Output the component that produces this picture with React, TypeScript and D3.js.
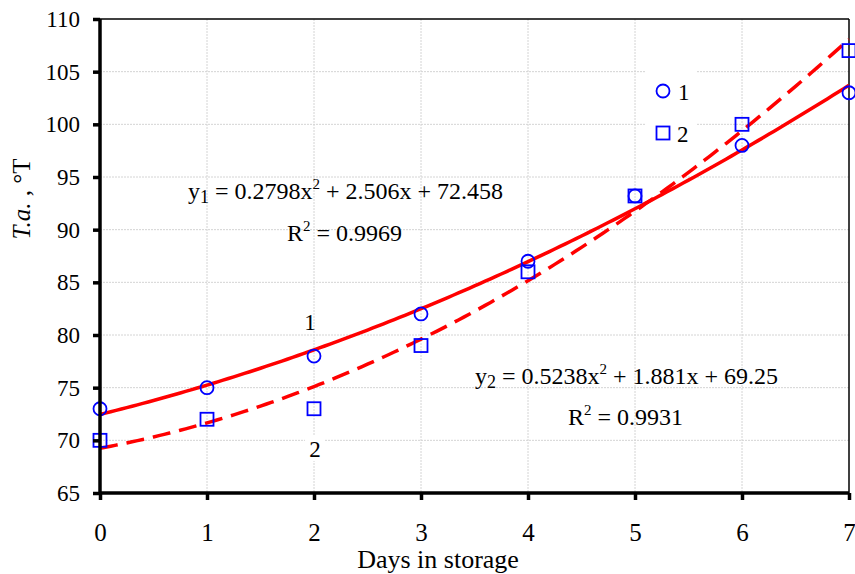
import React, { useRef, useEffect } from 'react'
import * as d3 from 'd3'

// measured data
const days = [0, 1, 2, 3, 4, 5, 6, 7]
const series1 = [73, 75, 78, 82, 87, 93.2, 98, 103]
const series2 = [70, 72, 73, 79, 86, 93.2, 100, 107]

// trend line coefficients shown on the chart (a, b, c for ax^2 + bx + c)
const trend1 = [0.2798, 2.506, 72.458]
const trend2 = [0.5238, 1.881, 69.25]

const xTicks = [0, 1, 2, 3, 4, 5, 6, 7]
const yTicks = [65, 70, 75, 80, 85, 90, 95, 100, 105, 110]

export default function App() {
  const svgRef = useRef<SVGSVGElement>(null)

  useEffect(() => {
    const svg = d3.select(svgRef.current)
    svg.selectAll('*').remove()

    const width = 855, height = 574
    const margin = { top: 19, right: 6, bottom: 81, left: 100 }
    const w = width - margin.left - margin.right
    const h = height - margin.top - margin.bottom
    const font = '"Liberation Serif", "Times New Roman", serif'

    svg.attr('width', width).attr('height', height)
      .style('font-family', font)

    const g = svg.append('g').attr('transform', `translate(${margin.left},${margin.top})`)

    const x = d3.scaleLinear().domain([0, 7]).range([0, w])
    const y = d3.scaleLinear().domain([65, 110]).range([h, 0])

    // grid
    g.append('g').selectAll('line').data(yTicks.slice(1, -1)).join('line')
      .attr('x1', 0).attr('x2', w).attr('y1', d => y(d)).attr('y2', d => y(d))
      .attr('stroke', '#d4d4d4').attr('stroke-width', 1).attr('stroke-dasharray', '2 1')
    g.append('g').selectAll('line').data(xTicks.slice(1, -1)).join('line')
      .attr('y1', 0).attr('y2', h).attr('x1', d => x(d)).attr('x2', d => x(d))
      .attr('stroke', '#d4d4d4').attr('stroke-width', 1).attr('stroke-dasharray', '2 1')

    // frame top/right
    g.append('line').attr('x1', 0).attr('x2', w).attr('y1', 0).attr('y2', 0)
      .attr('stroke', '#000').attr('stroke-width', 1.5)
    g.append('line').attr('x1', w).attr('x2', w).attr('y1', 0).attr('y2', h)
      .attr('stroke', '#000').attr('stroke-width', 1.5)

    // legend background
    g.append('rect').attr('x', 545).attr('y', 52).attr('width', 52).attr('height', 86).attr('fill', '#fff')

    // trend lines
    const xs = d3.range(0, 7.0001, 0.05)
    const quad = (c: number[]) => (t: number) => c[0] * t * t + c[1] * t + c[2]
    const f1 = quad(trend1), f2 = quad(trend2)
    g.append('path').datum(xs)
      .attr('d', d3.line<number>().x(d => x(d)).y(d => y(f1(d))))
      .attr('fill', 'none').attr('stroke', '#ff0000').attr('stroke-width', 3.5)
    g.append('path').datum(xs)
      .attr('d', d3.line<number>().x(d => x(d)).y(d => y(f2(d))))
      .attr('fill', 'none').attr('stroke', '#ff0000').attr('stroke-width', 3.5)
      .attr('stroke-dasharray', '18 9')

    // markers
    g.append('g').selectAll('circle').data(days).join('circle')
      .attr('cx', d => x(d)).attr('cy', (d, i) => y(series1[i])).attr('r', 6.5)
      .attr('fill', 'none').attr('stroke', '#0000ff').attr('stroke-width', 1.8)
    g.append('g').selectAll('rect').data(days).join('rect')
      .attr('x', d => x(d) - 6.5).attr('y', (d, i) => y(series2[i]) - 6.5)
      .attr('width', 13).attr('height', 13)
      .attr('fill', 'none').attr('stroke', '#0000ff').attr('stroke-width', 1.8)

    // axes
    const xAxis = g.append('g').attr('transform', `translate(0,${h})`)
      .call(d3.axisBottom(x).tickValues(xTicks).tickSize(7).tickPadding(23).tickFormat(d3.format('d')))
    const yAxis = g.append('g')
      .call(d3.axisLeft(y).tickValues(yTicks).tickSize(7).tickPadding(13).tickFormat(d3.format('d')))
    for (const ax of [xAxis, yAxis]) {
      ax.select('.domain').attr('stroke', '#000').attr('stroke-width', 3.5)
      ax.selectAll('.tick line').attr('stroke', '#000').attr('stroke-width', 3.5)
      ax.selectAll('.tick text').attr('fill', '#000').attr('font-family', font)
    }
    xAxis.selectAll('.tick text').attr('font-size', '25px')
    yAxis.selectAll('.tick text').attr('font-size', '23px')
    xAxis.select('.domain').attr('d', `M0,0H${w}`)
    yAxis.select('.domain').attr('d', `M0,0V${h}`)

    // legend
    g.append('circle').attr('cx', 563).attr('cy', 72).attr('r', 6.5)
      .attr('fill', 'none').attr('stroke', '#0000ff').attr('stroke-width', 1.8)
    g.append('text').attr('x', 578).attr('y', 81).attr('font-size', '23px').text('1')
    g.append('rect').attr('x', 556.5).attr('y', 107.5).attr('width', 13).attr('height', 13)
      .attr('fill', 'none').attr('stroke', '#0000ff').attr('stroke-width', 1.8)
    g.append('text').attr('x', 577).attr('y', 123).attr('font-size', '23px').text('2')

    // curve labels
    g.append('text').attr('x', 210).attr('y', 311).attr('text-anchor', 'middle')
      .attr('font-size', '23px').text('1')
    g.append('rect').attr('x', 205).attr('y', 416).attr('width', 20).attr('height', 26).attr('fill', '#fff')
    g.append('text').attr('x', 215).attr('y', 438).attr('text-anchor', 'middle')
      .attr('font-size', '23px').text('2')

    // equations
    const eq = (tx: number, ty: number, sub: string, parts: [string, string, string]) => {
      const t = g.append('text').attr('x', tx).attr('y', ty).attr('font-size', '24px')
      t.append('tspan').text('y')
      t.append('tspan').attr('font-size', '18px').attr('dy', 4).text(sub)
      t.append('tspan').attr('dy', -4).text(' = ' + parts[0] + 'x')
      t.append('tspan').attr('font-size', '15px').attr('dy', -10).text('2')
      t.append('tspan').attr('dy', 10).text(' + ' + parts[1] + 'x + ' + parts[2])
    }
    const r2 = (tx: number, ty: number, val: string) => {
      const t = g.append('text').attr('x', tx).attr('y', ty).attr('font-size', '24px')
      t.append('tspan').text('R')
      t.append('tspan').attr('font-size', '15px').attr('dy', -10).text('2')
      t.append('tspan').attr('dy', 10).text(' = ' + val)
    }
    eq(88, 180, '1', ['0.2798', '2.506', '72.458'])
    r2(187, 222, '0.9969')
    eq(375, 365, '2', ['0.5238', '1.881', '69.25'])
    r2(468, 406, '0.9931')

    // axis titles
    svg.append('text').attr('x', 438).attr('y', 568).attr('text-anchor', 'middle')
      .attr('font-size', '26px').text('Days in storage')
    const yl = svg.append('text').attr('transform', `translate(30,${margin.top + 180}) rotate(-90)`)
      .attr('text-anchor', 'middle').attr('font-size', '25px')
    yl.append('tspan').attr('font-style', 'italic').text('T.a.')
    yl.append('tspan').text(' , °T')
  }, [])

  return <svg ref={svgRef} style={{ position: 'absolute', left: 0, top: 0 }} />
}
